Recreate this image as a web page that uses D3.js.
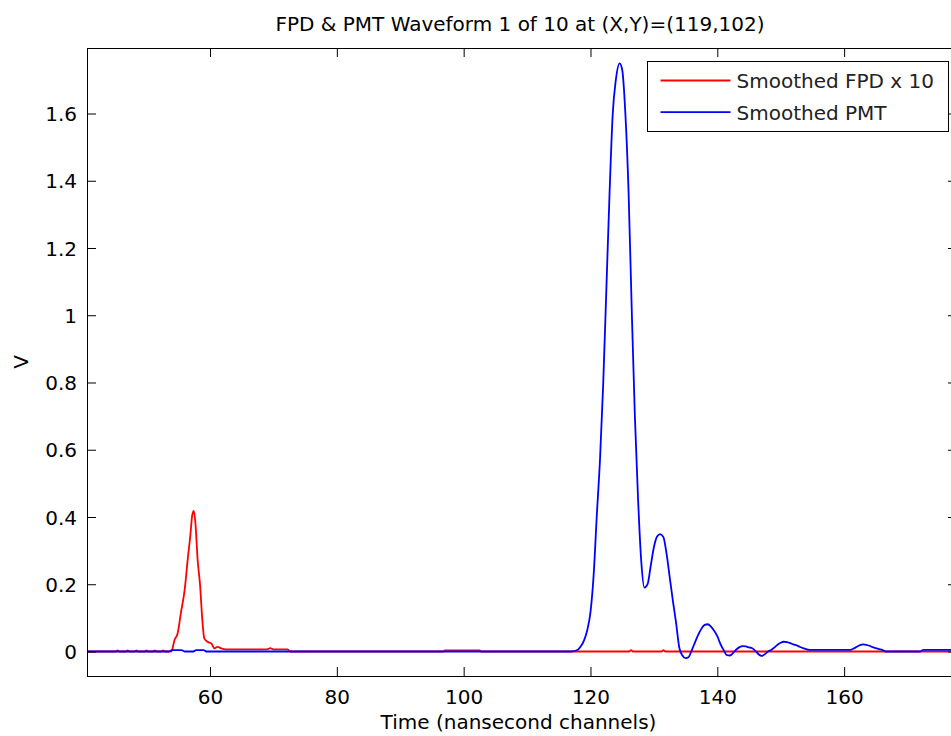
<!DOCTYPE html>
<html>
<head>
<meta charset="utf-8">
<script src="https://cdn.jsdelivr.net/npm/d3@7"></script>
<style>
    body { margin: 0; background: #fff; }
    #chart { width: 951px; height: 736px; }
    .axis text { font-family: "DejaVu Sans", sans-serif; font-size: 20px; fill: #000; }
    .axis line { stroke: #000; }
</style>
</head>
<body>
<div id="chart"></div>
<script>
// channels / volts
var pmtTime = [40.6, 53.5, 54.0, 55.5, 56.0, 57.4, 57.8, 59.0, 59.4, 117.0,
    118.0, 118.5, 119.0, 119.5, 120.0, 120.5, 121.0, 121.5, 122.0, 122.5,
    123.0, 123.5, 124.0, 124.6, 125.0, 125.5, 126.0, 126.5, 127.0, 127.5,
    128.0, 128.5, 129.0, 129.5, 130.0, 130.5, 131.0, 131.5, 132.0, 132.5,
    133.0, 133.5, 134.0, 134.5, 135.0, 135.5, 136.0, 136.5, 137.0, 137.5,
    138.0, 138.5, 139.0, 139.5, 140.0, 140.5, 141.0, 141.5, 142.0, 142.5,
    143.0, 143.5, 144.0, 144.5, 145.0, 145.5, 146.0, 146.5, 147.0, 147.5,
    148.0, 148.5, 149.0, 149.5, 150.0, 150.5, 151.0, 151.5, 152.0, 152.5,
    153.0, 153.5, 154.0, 154.5, 161.0, 161.5, 162.0, 162.5, 163.0, 163.5,
    164.0, 164.5, 165.0, 165.5, 166.0, 166.5, 172.0, 172.5, 177.8];
var pmtVolts = [0, 0, 0.004, 0.004, 0, 0, 0.004, 0.004, 0, 0,
    0.005, 0.016, 0.034, 0.064, 0.117, 0.228, 0.406, 0.57, 0.793, 1.075,
    1.358, 1.596, 1.70, 1.749, 1.73, 1.60, 1.37, 1.02, 0.70, 0.455,
    0.27, 0.19, 0.20, 0.255, 0.31, 0.342, 0.349, 0.34, 0.29, 0.22,
    0.15, 0.085, 0.012, -0.012, -0.020, -0.016, 0.005, 0.028, 0.05, 0.068,
    0.079, 0.081, 0.074, 0.062, 0.046, 0.022, 0.004, -0.011, -0.012, -0.004,
    0.006, 0.013, 0.016, 0.015, 0.012, 0.0095, 0.002, -0.008, -0.013, -0.008,
    0.0, 0.0045, 0.012, 0.02, 0.026, 0.029, 0.028, 0.025, 0.021, 0.018,
    0.014, 0.010, 0.007, 0.005, 0.005, 0.009, 0.014, 0.019, 0.021, 0.020,
    0.017, 0.013, 0.010, 0.007, 0.005, 0.0, 0.0, 0.005, 0.005];

var fpdTime = [40.6, 45.1, 45.4, 45.7, 46.7, 47.0, 47.3, 48.1, 48.4, 48.7,
    49.7, 50.0, 50.3, 51.0, 51.3, 51.6, 52.3, 52.6, 52.9, 53.9,
    54.4, 54.9, 55.4, 56.0, 56.5, 56.9, 57.2, 57.45, 57.7, 58.05,
    58.45, 58.75, 59.1, 59.6, 60.2, 60.7, 61.2, 61.75, 62.5, 69.0,
    69.5, 70.0, 72.2, 72.6, 96.8, 97.0, 102.5, 102.8, 126.1, 126.4,
    126.7, 131.2, 131.5, 131.8, 177.8];
var fpdVolts = [0, 0, 0.003, 0, 0, 0.003, 0, 0, 0.003, 0,
    0, 0.003, 0, 0, 0.003, 0, 0, 0.003, 0, 0,
    0.034, 0.054, 0.114, 0.183, 0.277, 0.346, 0.406, 0.418, 0.381, 0.272,
    0.193, 0.103, 0.039, 0.029, 0.024, 0.0095, 0.014, 0.0095, 0.0065, 0.0065,
    0.01, 0.0065, 0.0065, 0, 0, 0.003, 0.003, 0, 0, 0.004,
    0, 0, 0.004, 0, 0];

var xTicks = [60, 80, 100, 120, 140, 160];
var xTickLabels = ["60", "80", "100", "120", "140", "160"];
var yTicks = [0, 0.2, 0.4, 0.6, 0.8, 1, 1.2, 1.4, 1.6];
var yTickLabels = ["0", "0.2", "0.4", "0.6", "0.8", "1", "1.2", "1.4", "1.6"];
var seriesNames = ["Smoothed FPD x 10", "Smoothed PMT"];
var seriesColors = ["#ff0000", "#0000ff"];

var option = {
    container: "#chart",
    width: 951,
    height: 736,
    marginTop: 48,
    marginLeft: 87,
    plotWidth: 870,
    plotHeight: 628,
    title: "FPD & PMT Waveform 1 of 10 at (X,Y)=(119,102)",
    xLabel: "Time (nansecond channels)",
    yLabel: "V"
};

function waveformChart(options) {
    var width = options.plotWidth,
            height = options.plotHeight;

    var svg = d3.select(options.container)
            .append("svg")
            .attr("width", options.width)
            .attr("height", options.height)
            .style("font-family", "'DejaVu Sans', sans-serif");

    svg.append("rect")
            .attr("width", options.width)
            .attr("height", options.height)
            .attr("fill", "#fff");

    var x = d3.scaleLinear().domain([40.6, 177.8]).range([0, width]),
            y = d3.scaleLinear().domain([-0.0729, 1.7948]).range([height, 0]);

    var g = svg.append("g")
            .attr("transform", "translate(" + options.marginLeft + "," + options.marginTop + ")");

    g.append("defs").append("clipPath").attr("id", "plotclip")
            .append("rect").attr("width", width).attr("height", height);

    var line = d3.line()
            .x(function (d) { return x(d[0]); })
            .y(function (d) { return y(d[1]); })
            .curve(d3.curveMonotoneX);

    var series = [d3.zip(fpdTime, fpdVolts), d3.zip(pmtTime, pmtVolts)];

    g.selectAll("path.wave")
            .data(series)
            .enter().append("path")
            .attr("class", "wave")
            .attr("clip-path", "url(#plotclip)")
            .attr("fill", "none")
            .attr("stroke", function (d, i) { return seriesColors[i]; })
            .attr("stroke-width", 1.8)
            .attr("d", line);

    // axes, MATLAB style: ticks inside on all four sides
    g.append("g")
            .attr("class", "axis")
            .attr("transform", "translate(0," + height + ")")
            .call(d3.axisBottom(x).tickValues(xTicks).tickSize(-9).tickPadding(14)
                    .tickFormat(function (d, i) { return xTickLabels[i]; }));
    g.append("g")
            .attr("class", "axis")
            .call(d3.axisTop(x).tickValues(xTicks).tickSize(-9).tickFormat(""));
    g.append("g")
            .attr("class", "axis")
            .call(d3.axisLeft(y).tickValues(yTicks).tickSize(-9).tickPadding(10)
                    .tickFormat(function (d, i) { return yTickLabels[i]; }));
    g.append("g")
            .attr("class", "axis")
            .attr("transform", "translate(" + width + ",0)")
            .call(d3.axisRight(y).tickValues(yTicks).tickSize(-9).tickFormat(""));
    g.selectAll(".axis .domain").remove();
    g.selectAll(".axis text").attr("dy", function () {
        return d3.select(this).attr("dy") === "0.32em" ? "0.36em" : d3.select(this).attr("dy");
    });

    g.append("rect")
            .attr("x", 0.5).attr("y", 0.5)
            .attr("width", width).attr("height", height)
            .attr("fill", "none")
            .attr("stroke", "#000");

    // legend
    var legend = svg.append("g").attr("transform", "translate(647.5,61.5)");
    legend.append("rect")
            .attr("width", 301).attr("height", 70)
            .attr("fill", "#fff").attr("stroke", "#000");
    seriesNames.forEach(function (name, i) {
        var cy = 19 + i * 31.7;
        legend.append("line")
                .attr("x1", 13).attr("x2", 83)
                .attr("y1", cy).attr("y2", cy)
                .attr("stroke", seriesColors[i]).attr("stroke-width", 1.8);
        legend.append("text")
                .attr("x", 89).attr("y", cy + 7.5)
                .attr("font-size", 20).attr("fill", "#222")
                .text(name);
    });

    svg.append("text")
            .attr("x", 520).attr("y", 31)
            .attr("text-anchor", "middle")
            .attr("font-size", 20).attr("fill", "#000")
            .text(options.title);

    svg.append("text")
            .attr("x", options.marginLeft + 431.5).attr("y", 729)
            .attr("text-anchor", "middle")
            .attr("font-size", 20).attr("fill", "#000")
            .text(options.xLabel);

    svg.append("text")
            .attr("transform", "translate(28," + (options.marginTop + height / 2) + ") rotate(-90)")
            .attr("text-anchor", "middle")
            .attr("font-size", 20).attr("fill", "#000")
            .text(options.yLabel);
}

waveformChart(option);
</script>
</body>
</html>
